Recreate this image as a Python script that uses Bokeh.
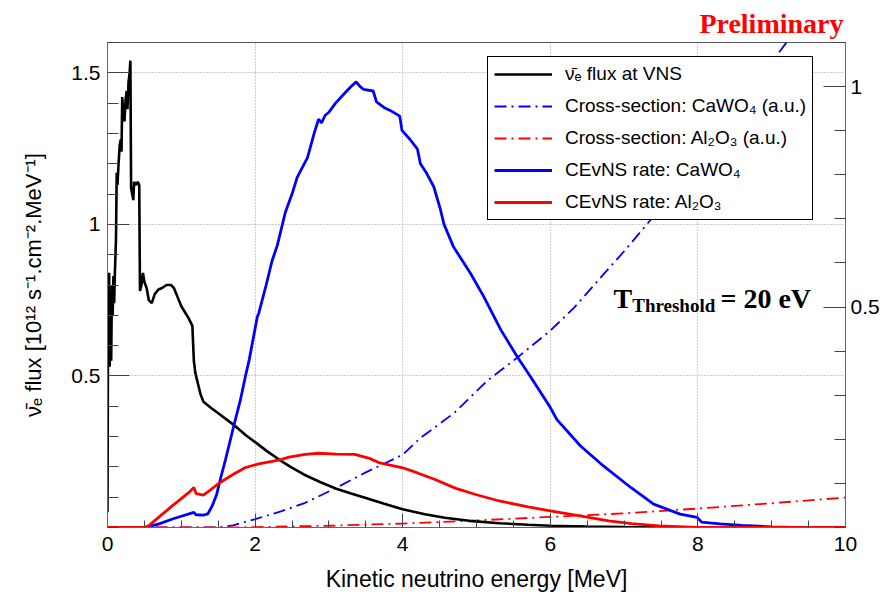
from bokeh.plotting import figure
from bokeh.models import Range1d, LinearAxis, FixedTicker, Legend, LegendItem, Label
from bokeh.embed import file_html
from bokeh.resources import INLINE

# ---------------- data ----------------
flux_energy = [0.0, 0.008, 0.015, 0.022, 0.03, 0.04, 0.05, 0.06, 0.07, 0.08, 0.09, 0.10,
               0.115, 0.125, 0.135, 0.15, 0.165, 0.18, 0.19, 0.20, 0.215, 0.23, 0.245, 0.26,
               0.27, 0.285, 0.30, 0.31, 0.32, 0.335, 0.35, 0.36, 0.39, 0.41, 0.43, 0.44,
               0.46, 0.48, 0.50, 0.53, 0.56, 0.60, 0.64, 0.69, 0.74, 0.80, 0.86, 0.90, 0.95,
               1.00, 1.05, 1.10, 1.15, 1.17, 1.19, 1.22, 1.26, 1.30, 1.40, 1.51, 1.62, 1.73,
               1.87, 2.01, 2.16, 2.32, 2.48, 2.66, 2.88, 3.10, 3.30, 3.49, 3.75, 4.0, 4.3,
               4.57, 4.9, 5.31, 5.7, 6.0, 6.5, 7.0, 7.5, 8.0, 10.0]
flux_value = [0.05, 0.72, 0.60, 0.84, 0.53, 0.70, 0.55, 0.80, 0.70, 0.83, 0.74, 0.84,
              0.95, 1.17, 1.13, 1.20, 1.26, 1.28, 1.24, 1.42, 1.36, 1.34, 1.41, 1.44,
              1.38, 1.47, 1.50, 1.54, 1.12, 1.10, 1.08, 1.14, 1.13, 1.14, 1.13, 0.78,
              0.80, 0.84, 0.81, 0.79, 0.75, 0.74, 0.77, 0.785, 0.79, 0.80, 0.80, 0.79, 0.76,
              0.73, 0.71, 0.69, 0.665, 0.55, 0.51, 0.48, 0.44, 0.415, 0.395, 0.375, 0.355, 0.335,
              0.305, 0.28, 0.252, 0.225, 0.200, 0.175, 0.15, 0.128, 0.112, 0.098, 0.078, 0.060, 0.044,
              0.032, 0.022, 0.014, 0.009, 0.006, 0.003, 0.0015, 0.0008, 0.0, 0.0]

xs_cawo4_energy = [0.0, 1.5, 1.7, 1.98, 2.36, 2.68, 3.10, 3.5, 4.0, 4.24, 4.7, 5.14, 5.55,
                   5.99, 6.32, 6.72, 7.04, 7.36, 8.0, 8.5, 9.06, 9.2]
xs_cawo4_value = [0.0, 0.0, 0.005, 0.018, 0.037, 0.056, 0.09, 0.125, 0.165, 0.203, 0.26, 0.332,
                  0.385, 0.445, 0.498, 0.574, 0.634, 0.698, 0.835, 0.945, 1.069, 1.10]

xs_al2o3_energy = [0.0, 1.6, 2.0, 3.0, 4.0, 5.0, 6.0, 7.0, 8.0, 9.0, 10.0]
xs_al2o3_value = [0.0, 0.0, 0.001, 0.004, 0.009, 0.016, 0.024, 0.032, 0.043, 0.055, 0.068]

rate_cawo4_energy = [0.0, 0.5, 0.56, 0.7, 0.88, 1.0, 1.17, 1.2, 1.3, 1.36, 1.42, 1.48, 1.53,
                     1.6, 1.71, 1.8, 1.87, 1.92, 2.03, 2.05, 2.15, 2.23, 2.30, 2.41, 2.50, 2.57,
                     2.71, 2.80, 2.86, 2.90, 2.95, 3.00, 3.09, 3.22, 3.30, 3.37, 3.42, 3.47, 3.60,
                     3.645, 3.75, 3.83, 3.96, 3.99, 4.10, 4.20, 4.24, 4.32, 4.42, 4.51, 4.56,
                     4.69, 4.92, 5.10, 5.33, 5.55, 5.73, 5.99, 6.09, 6.41, 6.72, 7.09, 7.40,
                     7.76, 7.99, 8.05, 8.3, 8.6, 9.0, 9.3, 10.0]
rate_cawo4_value = [0.0, 0.0, 0.003, 0.012, 0.028, 0.037, 0.05, 0.042, 0.041, 0.045, 0.072, 0.11,
                    0.16, 0.225, 0.334, 0.42, 0.50, 0.553, 0.695, 0.707, 0.80, 0.88, 0.93, 1.04,
                    1.10, 1.155, 1.22, 1.30, 1.347, 1.335, 1.36, 1.37, 1.40, 1.434, 1.455, 1.47,
                    1.455, 1.445, 1.44, 1.404, 1.385, 1.376, 1.357, 1.31, 1.28, 1.248, 1.20, 1.17,
                    1.125, 1.05, 1.0, 0.925, 0.838, 0.761, 0.652, 0.564, 0.498, 0.40, 0.356,
                    0.269, 0.203, 0.132, 0.077, 0.044, 0.033, 0.018, 0.012, 0.007, 0.002, 0.0, 0.0]

rate_al2o3_energy = [0.0, 0.5, 0.56, 0.7, 0.88, 1.0, 1.1, 1.17, 1.2, 1.3, 1.4, 1.51, 1.7,
                     1.87, 2.05, 2.23, 2.36, 2.46, 2.68, 2.86, 3.1, 3.35, 3.55, 3.69, 4.0,
                     4.2, 4.43, 4.72, 5.0, 5.31, 5.7, 6.0, 6.4, 6.79, 7.1, 7.47, 8.0, 10.0]
rate_al2o3_value = [0.0, 0.0, 0.006, 0.035, 0.072, 0.095, 0.115, 0.132, 0.112, 0.107, 0.125,
                    0.146, 0.175, 0.198, 0.210, 0.218, 0.225, 0.232, 0.241, 0.245, 0.242, 0.241,
                    0.228, 0.213, 0.197, 0.18, 0.159, 0.129, 0.108, 0.0875, 0.068, 0.055, 0.038,
                    0.022, 0.013, 0.0055, 0.0, 0.0]

x_ticks = [0, 2, 4, 6, 8, 10]
x_minor = [i * 0.5 for i in range(21)]
left_ticks = [0.5, 1.0, 1.5]
left_minor = [i * 0.1 for i in range(17)]
right_ticks = [0.5, 1.0]
right_minor = [i * 0.1 for i in range(12)]

legend_labels = ["\u03bd\u0304\u2091 flux at VNS",
                 "Cross-section: CaWO\u2084 (a.u.)",
                 "Cross-section: Al\u2082O\u2083 (a.u.)",
                 "CEvNS rate: CaWO\u2084",
                 "CEvNS rate: Al\u2082O\u2083"]

SANS = "Liberation Sans"
SERIF = "Liberation Serif"

p = figure(width=884, height=598, output_backend="svg", toolbar_location=None,
           x_range=Range1d(0, 10), y_range=Range1d(0, 1.6),
           min_border_left=107, min_border_right=39, min_border_top=42, min_border_bottom=71)
p.extra_y_ranges = {"xs": Range1d(0, 1.1)}
p.background_fill_color = "white"
p.border_fill_color = "white"
p.outline_line_color = "#555555"
p.outline_line_width = 1

# title used as the red "Preliminary" tag
p.title.text = "Preliminary"
p.title.align = "right"
p.title.vertical_align = "top"
p.title.offset = 2
p.title.standoff = 4
p.title.text_color = "red"
p.title.text_font = SERIF
p.title.text_font_style = "bold"
p.title.text_font_size = "28px"

# axes
xa = p.xaxis[0]
xa.ticker = FixedTicker(ticks=x_ticks, minor_ticks=x_minor)
xa.axis_label = "Kinetic neutrino energy [MeV]"
ya = p.yaxis[0]
ya.ticker = FixedTicker(ticks=left_ticks, minor_ticks=left_minor)
ya.major_label_overrides = {0.5: "0.5", 1.0: "1", 1.5: "1.5"}
ya.axis_label = "\u03bd\u0304\u2091 flux [10\u00b9\u00b2 s\u207b\u00b9.cm\u207b\u00b2.MeV\u207b\u00b9]"
ra = LinearAxis(y_range_name="xs", ticker=FixedTicker(ticks=right_ticks, minor_ticks=right_minor))
ra.major_label_overrides = {0.5: "0.5", 1.0: "1"}
p.add_layout(ra, "right")

for ax in (xa, ya, ra):
    ax.axis_line_color = "#666666"
    ax.axis_line_width = 1
    ax.major_tick_line_color = "#444444"
    ax.minor_tick_line_color = "#444444"
    ax.major_tick_out = 0
    ax.minor_tick_out = 0
    ax.major_label_text_font = SANS
    ax.major_label_text_font_size = "21px"
    ax.major_label_text_color = "black"
    ax.axis_label_text_font = SANS
    ax.axis_label_text_font_style = "normal"
    ax.axis_label_text_font_size = "23px"
    ax.axis_label_text_color = "black"

xa.major_tick_in = 14
xa.minor_tick_in = 7
xa.major_label_standoff = 9
xa.axis_label_standoff = 12
ya.major_tick_in = 22
ya.minor_tick_in = 11
ya.major_label_standoff = 7
ya.axis_label_standoff = 22
ya.axis_label_text_font_size = "22px"
ra.major_tick_in = 22
ra.minor_tick_in = 11
ra.major_label_standoff = 5

# grid
p.xgrid.grid_line_color = "#9a9a9a"
p.xgrid.grid_line_dash = "1 2"
p.ygrid.grid_line_color = "#9a9a9a"
p.ygrid.grid_line_dash = "1 2"

DASHDOT = "12 5 2 5"
r_xs_ca = p.line(xs_cawo4_energy, xs_cawo4_value, y_range_name="xs", line_color="blue",
                 line_width=1.8, line_dash=DASHDOT)
r_xs_al = p.line(xs_al2o3_energy, xs_al2o3_value, y_range_name="xs", line_color="red",
                 line_width=1.8, line_dash=DASHDOT)
r_flux = p.line(flux_energy, flux_value, line_color="black", line_width=2.6)
r_rate_ca = p.line(rate_cawo4_energy, rate_cawo4_value, line_color="blue", line_width=2.8)
r_rate_al = p.line(rate_al2o3_energy, rate_al2o3_value, line_color="red", line_width=2.8)

renderers = [r_flux, r_xs_ca, r_xs_al, r_rate_ca, r_rate_al]
legend = Legend(items=[LegendItem(label=l, renderers=[r]) for l, r in zip(legend_labels, renderers)],
                location=(380, 307), margin=0, padding=6, spacing=10,
                glyph_width=58, glyph_height=20, label_height=20, label_standoff=13,
                label_text_font=SANS, label_text_font_size="19px", label_text_color="black",
                border_line_color="black", border_line_width=1, border_line_alpha=1,
                background_fill_color="white", background_fill_alpha=1.0)
p.add_layout(legend)

# annotations
p.add_layout(Label(x=6.856, y=0.755, text="T", text_align="left", text_baseline="alphabetic",
                   text_font=SERIF, text_font_style="bold", text_font_size="28px", text_color="black"))
p.add_layout(Label(x=7.11, y=0.733, text="Threshold", text_align="left", text_baseline="alphabetic",
                   text_font=SERIF, text_font_style="bold", text_font_size="19px", text_color="black"))
p.add_layout(Label(x=8.306, y=0.755, text="= 20 eV", text_align="left", text_baseline="alphabetic",
                   text_font=SERIF, text_font_style="bold", text_font_size="28px", text_color="black"))

open("out.html", "w").write(file_html(p, INLINE))
